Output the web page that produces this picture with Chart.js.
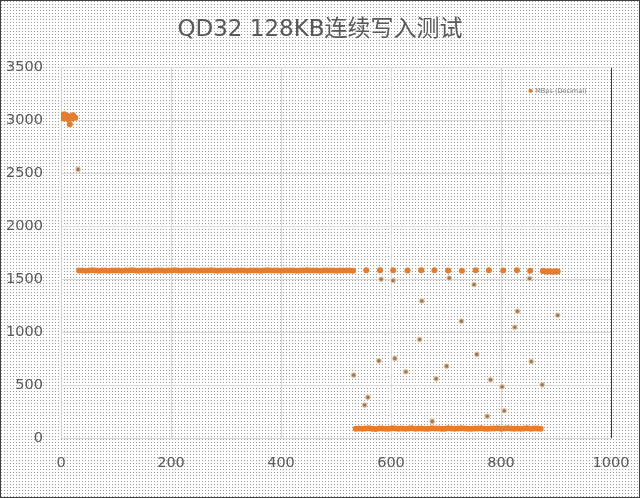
<!DOCTYPE html>
<html>
<head>
<meta charset="utf-8">
<script src="https://cdn.jsdelivr.net/npm/chart.js@4.4.0/dist/chart.umd.min.js"></script>
<style>
    body { margin: 0; background: #fff; }
    #wrap { width: 640px; height: 498px; position: relative; }
</style>
</head>
<body>
<div id="wrap"><canvas id="qdChart"></canvas></div>
<script>
const chartTitle = 'QD32 128KB连续写入测试';
const seriesName = 'MBps (Decimal)';

// start burst (~3000 MB/s)
const startX = [0, 2, 4, 6, 8, 10, 12, 14, 16, 18, 20, 22, 24, 26];
const startY = [3035, 3050, 3020, 3060, 3030, 3045, 3015, 3040, 2965, 3035, 3020, 3050, 3030, 3025];

// steady plateau (~1580 MB/s)
const plateauX = [33, 39, 45, 51, 57, 63, 69, 75, 81, 87, 93, 99,
    105, 111, 117, 123, 129, 135, 141, 147, 153, 159, 165, 171,
    177, 183, 189, 195, 201, 207, 213, 219, 225, 231, 237, 243,
    249, 255, 261, 267, 273, 279, 285, 291, 297, 303, 309, 315,
    321, 327, 333, 339, 345, 351, 357, 363, 369, 375, 381, 387,
    393, 399, 405, 411, 417, 423, 429, 435, 441, 447, 453, 459,
    465, 471, 477, 483, 489, 495, 501, 507, 513, 519, 525, 531];
const plateauY = [1582, 1583, 1581, 1582, 1584, 1582, 1580, 1583, 1582, 1581, 1583, 1582,
    1582, 1581, 1583, 1582, 1584, 1582, 1581, 1582, 1583, 1582, 1580, 1582,
    1583, 1582, 1581, 1582, 1583, 1584, 1582, 1581, 1582, 1583, 1582, 1582,
    1581, 1583, 1582, 1582, 1584, 1582, 1581, 1583, 1582, 1582, 1583, 1581,
    1582, 1583, 1582, 1580, 1582, 1583, 1582, 1581, 1582, 1584, 1582, 1583,
    1582, 1581, 1582, 1583, 1582, 1582, 1581, 1583, 1582, 1584, 1582, 1582,
    1583, 1581, 1582, 1582, 1583, 1582, 1581, 1582, 1583, 1582, 1582, 1581];

// low floor (~90 MB/s)
const floorX = [536, 542, 548, 554, 560, 566, 572, 578, 584, 590, 596, 602,
    608, 614, 620, 626, 632, 638, 644, 650, 656, 662, 668, 674,
    680, 686, 692, 698, 704, 710, 716, 722, 728, 734, 740, 746,
    752, 758, 764, 770, 776, 782, 788, 794, 800, 806, 812, 818,
    824, 830, 836, 842, 848, 854, 860, 866, 872];
const floorY = [88, 90, 87, 89, 91, 88, 86, 90, 89, 87, 88, 91,
    89, 88, 90, 87, 89, 92, 88, 89, 90, 87, 88, 91,
    89, 90, 88, 87, 92, 89, 88, 90, 91, 89, 88, 87,
    90, 89, 91, 88, 87, 89, 90, 92, 88, 89, 91, 90,
    88, 89, 87, 90, 91, 88, 89, 90, 88];

// periodic recovery spikes at plateau level
const spikeX = [555, 580, 604, 630, 655, 679, 704, 729, 754, 778, 804, 829, 853];
const spikeY = [1585, 1584, 1586, 1583, 1585, 1584, 1582, 1580, 1585, 1584, 1583, 1585, 1581];

// tail back at plateau level
const tailX = [876, 880, 884, 888, 892, 896, 900, 903];
const tailY = [1578, 1575, 1572, 1576, 1574, 1571, 1575, 1573];

// isolated points
const outlierX = [31, 582, 604, 706, 751, 852, 656, 830, 903, 728, 825, 652, 756, 855,
    578, 607, 701, 627, 532, 682, 781, 802, 875, 558, 552, 806, 775, 675];
const outlierY = [2538, 1500, 1488, 1512, 1450, 1507, 1295, 1198, 1160, 1104, 1047, 931, 790, 723,
    729, 752, 679, 626, 594, 560, 550, 484, 503, 384, 311, 258, 205, 157];

const xTicks = [0, 200, 400, 600, 800, 1000];
const yTicks = [0, 500, 1000, 1500, 2000, 2500, 3000, 3500];

const toPoints = (xs, ys) => xs.map((x, i) => ({ x: x, y: ys[i] }));

const mainPoints = [].concat(
    toPoints(startX, startY),
    toPoints(plateauX, plateauY),
    toPoints(spikeX, spikeY),
    toPoints(floorX, floorY),
    toPoints(tailX, tailY)
);
const outlierPoints = toPoints(outlierX, outlierY);

const titleFont = '"DejaVu Sans", "Noto Sans CJK SC", sans-serif';
const tickFont = '"DejaVu Sans", sans-serif';

// dotted pattern background + outer frame
const backdrop = {
    id: 'backdrop',
    beforeDraw(chart) {
        const ctx = chart.ctx;
        const tile = document.createElement('canvas');
        tile.width = 3;
        tile.height = 3;
        const t = tile.getContext('2d');
        t.fillStyle = '#ffffff';
        t.fillRect(0, 0, 3, 3);
        t.fillStyle = '#9c9c9c';
        t.fillRect(1, 1, 1, 1);
        ctx.save();
        ctx.fillStyle = ctx.createPattern(tile, 'repeat');
        ctx.fillRect(0, 0, chart.width, chart.height);
        ctx.restore();
    },
    afterDraw(chart) {
        const ctx = chart.ctx;
        ctx.save();
        ctx.strokeStyle = '#404040';
        ctx.lineWidth = 1;
        ctx.strokeRect(0.5, 0.5, chart.width - 1, chart.height - 1);
        ctx.restore();
    }
};

// legend inside the plot (top right), title centred on the whole canvas
const boxMover = {
    id: 'boxMover',
    afterLayout(chart) {
        const lg = chart.legend;
        const area = chart.chartArea;
        const w = lg.width;
        lg.left = area.right - 84;
        lg.right = lg.left + w;
        lg.top = area.top + 18;

        const tb = chart.titleBlock;
        tb.left = 0;
        tb.right = chart.width;
        tb.width = chart.width;
    }
};

const ctx = document.getElementById('qdChart').getContext('2d');
const qdChart = new Chart(ctx, {
    type: 'scatter',
    data: {
        datasets: [{
            label: seriesName,
            data: mainPoints,
            backgroundColor: '#E57C2E',
            borderColor: '#E57C2E',
            borderWidth: 0,
            pointRadius: 3,
            pointHoverRadius: 3
        }, {
            label: 'outliers',
            data: outlierPoints,
            backgroundColor: '#8f7a66',
            borderColor: 'rgba(245, 200, 150, 0.6)',
            borderWidth: 1.5,
            pointRadius: 2.3,
            pointHoverRadius: 2.3
        }]
    },
    options: {
        responsive: true,
        maintainAspectRatio: false,
        animation: false,
        layout: {
            padding: { left: 0, right: 29, top: 0, bottom: 0 }
        },
        plugins: {
            title: {
                display: true,
                text: chartTitle,
                color: '#595959',
                font: { family: titleFont, size: 23, weight: 'normal' },
                padding: { top: 16, bottom: 24 }
            },
            legend: {
                position: 'chartArea',
                align: 'start',
                labels: {
                    filter: item => item.datasetIndex === 0,
                    usePointStyle: true,
                    pointStyle: 'circle',
                    boxWidth: 3,
                    boxHeight: 3,
                    padding: 2,
                    color: '#7f7f7f',
                    font: { family: tickFont, size: 6.5 }
                }
            },
            tooltip: { enabled: false }
        },
        scales: {
            x: {
                type: 'linear',
                min: 0,
                max: 1000,
                afterBuildTicks: axis => { axis.ticks = xTicks.map(v => ({ value: v })); },
                afterFit: axis => { axis.height = 60; },
                grid: {
                    drawTicks: true,
                    tickLength: 14,
                    tickColor: 'rgba(0,0,0,0)',
                    color: c => c.tick && c.tick.value === 1000 ? '#3a3a3a' : '#d9d9d9'
                },
                border: { display: true, color: '#d9d9d9' },
                ticks: {
                    padding: 3,
                    color: '#595959',
                    font: { family: tickFont, size: 14.5 },
                    callback: v => String(v)
                }
            },
            y: {
                type: 'linear',
                min: 0,
                max: 3500,
                afterBuildTicks: axis => { axis.ticks = yTicks.map(v => ({ value: v })); },
                afterFit: axis => { axis.width = 61; },
                grid: {
                    drawTicks: false,
                    color: '#d9d9d9'
                },
                border: { display: true, color: '#d0d0d0' },
                ticks: {
                    padding: 18,
                    color: '#595959',
                    font: { family: tickFont, size: 14.5 },
                    callback: v => String(v)
                }
            }
        }
    },
    plugins: [backdrop, boxMover]
});
</script>
</body>
</html>
